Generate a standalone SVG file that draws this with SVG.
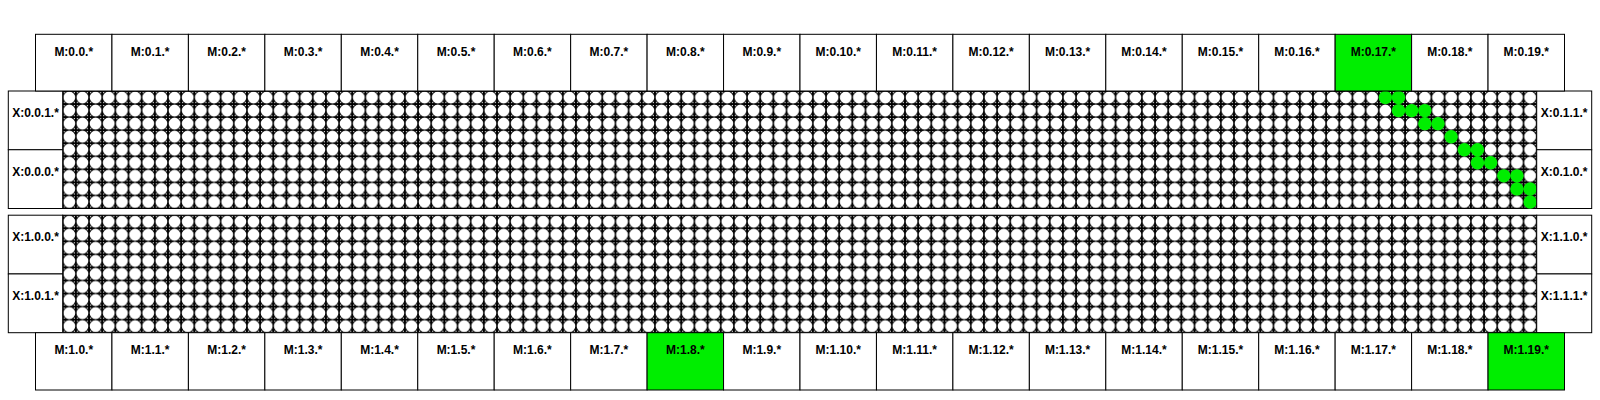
<svg xmlns="http://www.w3.org/2000/svg" width="1600" height="400" viewBox="0 0 1600 400">
<style>
.box{fill:#fff;stroke:#000;stroke-width:1}
.on{fill:#00ee00;stroke:#000;stroke-width:1}
.lbl{font-family:"Liberation Sans",Arial,sans-serif;font-weight:bold;font-size:12px;fill:#000;text-anchor:middle}
.g{fill:#00ee00;stroke:none}
</style>
<defs>
<pattern id="cell" patternUnits="userSpaceOnUse" x="0" y="0" width="13.1607" height="13.0556">
<rect x="0" y="0" width="13.1607" height="13.0556" fill="#fff" stroke="#000" stroke-width="1" shape-rendering="crispEdges"/>
<circle cx="6.58" cy="6.528" r="6.45" fill="#fff" stroke="#000" stroke-width="1"/>
</pattern>
</defs>
<rect width="1600" height="400" fill="#fff"/>

<g id="panel-0" transform="translate(62.7,91)">
<rect x="0" y="0" width="1474" height="117.5" fill="url(#cell)" stroke="#000" stroke-width="1"/>
<g id="active-cells">
<circle class="g" cx="1322.65" cy="6.53" r="6.7"/><circle class="g" cx="1335.81" cy="6.53" r="6.7"/>
<circle class="g" cx="1335.81" cy="19.58" r="6.7"/><circle class="g" cx="1348.97" cy="19.58" r="6.7"/><circle class="g" cx="1362.13" cy="19.58" r="6.7"/>
<circle class="g" cx="1362.13" cy="32.64" r="6.7"/><circle class="g" cx="1375.29" cy="32.64" r="6.7"/>
<circle class="g" cx="1388.45" cy="45.70" r="6.7"/>
<circle class="g" cx="1401.61" cy="58.75" r="6.7"/><circle class="g" cx="1414.77" cy="58.75" r="6.7"/>
<circle class="g" cx="1414.77" cy="71.81" r="6.7"/><circle class="g" cx="1427.93" cy="71.81" r="6.7"/>
<circle class="g" cx="1441.09" cy="84.86" r="6.7"/><circle class="g" cx="1454.26" cy="84.86" r="6.7"/>
<circle class="g" cx="1454.26" cy="97.92" r="6.7"/><circle class="g" cx="1467.42" cy="97.92" r="6.7"/>
<circle class="g" cx="1467.42" cy="110.98" r="6.7"/>
</g>
</g>
<g id="panel-1" transform="translate(62.7,215.2)">
<rect x="0" y="0" width="1474" height="117.5" fill="url(#cell)" stroke="#000" stroke-width="1"/>
</g>

<g id="x-0-0-1" transform="translate(8.3,91)"><rect class="box" width="54.4" height="58.75"/><text class="lbl" x="27.2" y="26">X:0.0.1.*</text></g>
<g id="x-0-0-0" transform="translate(8.3,149.75)"><rect class="box" width="54.4" height="58.75"/><text class="lbl" x="27.2" y="26">X:0.0.0.*</text></g>
<g id="x-0-1-1" transform="translate(1536.7,91)"><rect class="box" width="55" height="58.75"/><text class="lbl" x="27.5" y="26">X:0.1.1.*</text></g>
<g id="x-0-1-0" transform="translate(1536.7,149.75)"><rect class="box" width="55" height="58.75"/><text class="lbl" x="27.5" y="26">X:0.1.0.*</text></g>
<g id="x-1-0-0" transform="translate(8.3,215.2)"><rect class="box" width="54.4" height="58.75"/><text class="lbl" x="27.2" y="26">X:1.0.0.*</text></g>
<g id="x-1-0-1" transform="translate(8.3,273.95)"><rect class="box" width="54.4" height="58.75"/><text class="lbl" x="27.2" y="26">X:1.0.1.*</text></g>
<g id="x-1-1-0" transform="translate(1536.7,215.2)"><rect class="box" width="55" height="58.75"/><text class="lbl" x="27.5" y="26">X:1.1.0.*</text></g>
<g id="x-1-1-1" transform="translate(1536.7,273.95)"><rect class="box" width="55" height="58.75"/><text class="lbl" x="27.5" y="26">X:1.1.1.*</text></g>

<g id="m-0-0" transform="translate(35.5,34.3)"><rect class="box" width="76.45" height="56.7"/><text class="lbl" x="38.225" y="21.7">M:0.0.*</text></g>
<g id="m-0-1" transform="translate(111.95,34.3)"><rect class="box" width="76.45" height="56.7"/><text class="lbl" x="38.225" y="21.7">M:0.1.*</text></g>
<g id="m-0-2" transform="translate(188.4,34.3)"><rect class="box" width="76.45" height="56.7"/><text class="lbl" x="38.225" y="21.7">M:0.2.*</text></g>
<g id="m-0-3" transform="translate(264.85,34.3)"><rect class="box" width="76.45" height="56.7"/><text class="lbl" x="38.225" y="21.7">M:0.3.*</text></g>
<g id="m-0-4" transform="translate(341.3,34.3)"><rect class="box" width="76.45" height="56.7"/><text class="lbl" x="38.225" y="21.7">M:0.4.*</text></g>
<g id="m-0-5" transform="translate(417.75,34.3)"><rect class="box" width="76.45" height="56.7"/><text class="lbl" x="38.225" y="21.7">M:0.5.*</text></g>
<g id="m-0-6" transform="translate(494.2,34.3)"><rect class="box" width="76.45" height="56.7"/><text class="lbl" x="38.225" y="21.7">M:0.6.*</text></g>
<g id="m-0-7" transform="translate(570.65,34.3)"><rect class="box" width="76.45" height="56.7"/><text class="lbl" x="38.225" y="21.7">M:0.7.*</text></g>
<g id="m-0-8" transform="translate(647.1,34.3)"><rect class="box" width="76.45" height="56.7"/><text class="lbl" x="38.225" y="21.7">M:0.8.*</text></g>
<g id="m-0-9" transform="translate(723.55,34.3)"><rect class="box" width="76.45" height="56.7"/><text class="lbl" x="38.225" y="21.7">M:0.9.*</text></g>
<g id="m-0-10" transform="translate(800,34.3)"><rect class="box" width="76.45" height="56.7"/><text class="lbl" x="38.225" y="21.7">M:0.10.*</text></g>
<g id="m-0-11" transform="translate(876.45,34.3)"><rect class="box" width="76.45" height="56.7"/><text class="lbl" x="38.225" y="21.7">M:0.11.*</text></g>
<g id="m-0-12" transform="translate(952.9,34.3)"><rect class="box" width="76.45" height="56.7"/><text class="lbl" x="38.225" y="21.7">M:0.12.*</text></g>
<g id="m-0-13" transform="translate(1029.35,34.3)"><rect class="box" width="76.45" height="56.7"/><text class="lbl" x="38.225" y="21.7">M:0.13.*</text></g>
<g id="m-0-14" transform="translate(1105.8,34.3)"><rect class="box" width="76.45" height="56.7"/><text class="lbl" x="38.225" y="21.7">M:0.14.*</text></g>
<g id="m-0-15" transform="translate(1182.25,34.3)"><rect class="box" width="76.45" height="56.7"/><text class="lbl" x="38.225" y="21.7">M:0.15.*</text></g>
<g id="m-0-16" transform="translate(1258.7,34.3)"><rect class="box" width="76.45" height="56.7"/><text class="lbl" x="38.225" y="21.7">M:0.16.*</text></g>
<g id="m-0-17" transform="translate(1335.15,34.3)"><rect class="on" width="76.45" height="56.7"/><text class="lbl" x="38.225" y="21.7">M:0.17.*</text></g>
<g id="m-0-18" transform="translate(1411.6,34.3)"><rect class="box" width="76.45" height="56.7"/><text class="lbl" x="38.225" y="21.7">M:0.18.*</text></g>
<g id="m-0-19" transform="translate(1488.05,34.3)"><rect class="box" width="76.45" height="56.7"/><text class="lbl" x="38.225" y="21.7">M:0.19.*</text></g>

<g id="m-1-0" transform="translate(35.5,332.7)"><rect class="box" width="76.45" height="57.3"/><text class="lbl" x="38.225" y="21.7">M:1.0.*</text></g>
<g id="m-1-1" transform="translate(111.95,332.7)"><rect class="box" width="76.45" height="57.3"/><text class="lbl" x="38.225" y="21.7">M:1.1.*</text></g>
<g id="m-1-2" transform="translate(188.4,332.7)"><rect class="box" width="76.45" height="57.3"/><text class="lbl" x="38.225" y="21.7">M:1.2.*</text></g>
<g id="m-1-3" transform="translate(264.85,332.7)"><rect class="box" width="76.45" height="57.3"/><text class="lbl" x="38.225" y="21.7">M:1.3.*</text></g>
<g id="m-1-4" transform="translate(341.3,332.7)"><rect class="box" width="76.45" height="57.3"/><text class="lbl" x="38.225" y="21.7">M:1.4.*</text></g>
<g id="m-1-5" transform="translate(417.75,332.7)"><rect class="box" width="76.45" height="57.3"/><text class="lbl" x="38.225" y="21.7">M:1.5.*</text></g>
<g id="m-1-6" transform="translate(494.2,332.7)"><rect class="box" width="76.45" height="57.3"/><text class="lbl" x="38.225" y="21.7">M:1.6.*</text></g>
<g id="m-1-7" transform="translate(570.65,332.7)"><rect class="box" width="76.45" height="57.3"/><text class="lbl" x="38.225" y="21.7">M:1.7.*</text></g>
<g id="m-1-8" transform="translate(647.1,332.7)"><rect class="on" width="76.45" height="57.3"/><text class="lbl" x="38.225" y="21.7">M:1.8.*</text></g>
<g id="m-1-9" transform="translate(723.55,332.7)"><rect class="box" width="76.45" height="57.3"/><text class="lbl" x="38.225" y="21.7">M:1.9.*</text></g>
<g id="m-1-10" transform="translate(800,332.7)"><rect class="box" width="76.45" height="57.3"/><text class="lbl" x="38.225" y="21.7">M:1.10.*</text></g>
<g id="m-1-11" transform="translate(876.45,332.7)"><rect class="box" width="76.45" height="57.3"/><text class="lbl" x="38.225" y="21.7">M:1.11.*</text></g>
<g id="m-1-12" transform="translate(952.9,332.7)"><rect class="box" width="76.45" height="57.3"/><text class="lbl" x="38.225" y="21.7">M:1.12.*</text></g>
<g id="m-1-13" transform="translate(1029.35,332.7)"><rect class="box" width="76.45" height="57.3"/><text class="lbl" x="38.225" y="21.7">M:1.13.*</text></g>
<g id="m-1-14" transform="translate(1105.8,332.7)"><rect class="box" width="76.45" height="57.3"/><text class="lbl" x="38.225" y="21.7">M:1.14.*</text></g>
<g id="m-1-15" transform="translate(1182.25,332.7)"><rect class="box" width="76.45" height="57.3"/><text class="lbl" x="38.225" y="21.7">M:1.15.*</text></g>
<g id="m-1-16" transform="translate(1258.7,332.7)"><rect class="box" width="76.45" height="57.3"/><text class="lbl" x="38.225" y="21.7">M:1.16.*</text></g>
<g id="m-1-17" transform="translate(1335.15,332.7)"><rect class="box" width="76.45" height="57.3"/><text class="lbl" x="38.225" y="21.7">M:1.17.*</text></g>
<g id="m-1-18" transform="translate(1411.6,332.7)"><rect class="box" width="76.45" height="57.3"/><text class="lbl" x="38.225" y="21.7">M:1.18.*</text></g>
<g id="m-1-19" transform="translate(1488.05,332.7)"><rect class="on" width="76.45" height="57.3"/><text class="lbl" x="38.225" y="21.7">M:1.19.*</text></g>

<g id="connectors"/>
</svg>
